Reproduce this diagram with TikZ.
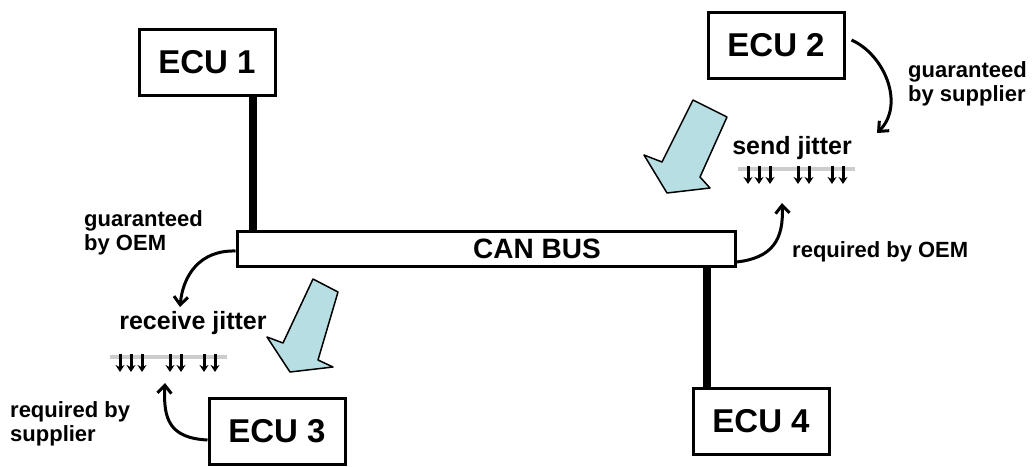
\documentclass[tikz,border=0pt]{standalone}
\usepackage{fontspec}
\setmainfont{Liberation Sans}
\usetikzlibrary{arrows.meta,positioning}
\definecolor{arrowblue}{RGB}{183,222,227}
\definecolor{jittergray}{RGB}{205,205,205}

\begin{document}
\begin{tikzpicture}[x=1pt,y=-1pt,
    ecu/.style={draw,line width=3pt,minimum width=136pt,minimum height=66pt,
      inner sep=0pt,font=\bfseries\fontsize{33}{40}\selectfont},
    bus/.style={draw,line width=3pt,minimum width=498pt,minimum height=35pt,inner sep=0pt},
    stub/.style={line width=8pt},
    note/.style={font=\bfseries\fontsize{22}{24}\selectfont,align=left,anchor=west,inner sep=0pt},
    jit/.style={font=\bfseries\fontsize{25}{30}\selectfont,inner sep=0pt},
    curvy/.style={line width=3pt,-{Straight Barb[length=8pt,width=14pt]}},
    bigarrow/.style={draw,fill=arrowblue,line width=1.5pt,line join=round},
    tick/.style={line width=3pt,-{Stealth[length=7pt,width=9pt]}}]
    \useasboundingbox (0,0) rectangle (1032,466);

    % ECUs and bus
    \node[ecu] (ecu1) at (207,62) {ECU 1};
    \node[ecu] (ecu2) at (776,45) {ECU 2};
    \node[ecu] (ecu3) at (277,431) {ECU 3};
    \node[ecu] (ecu4) at (761,421) {ECU 4};
    \node[bus] (bus) at (486,249) {};
    \node[font=\bfseries\fontsize{28}{34}\selectfont] (buslabel) at (537,249) {CAN BUS};

    \coordinate (tap1) at (253,249);
    \coordinate (tap4) at (707,249);
    \draw[stub] (ecu1.south -| tap1) -- (bus.north -| tap1);
    \draw[stub] (bus.south -| tap4) -- (ecu4.north -| tap4);

    % jitter
    \node[jit] (send) at (792,148) {send jitter};
    \node[jit] (recv) at (193,323) {receive jitter};
    \coordinate (sendbar) at (738,169);
    \coordinate (recvbar) at (110,357);
    \draw[line width=4pt,jittergray] (sendbar) -- ++(117,0);
    \draw[line width=4pt,jittergray] (recvbar) -- ++(117,0);
    \foreach \dx in {10,21,32,60,71,94,105} {
      \draw[tick] ([xshift=\dx pt,yshift=3pt]sendbar) -- ++(0,18);
      \draw[tick] ([xshift=\dx pt,yshift=3pt]recvbar) -- ++(0,18);
    }

    % big arrows
    \draw[bigarrow] (693,100) -- (727,117) -- (700,177) -- (710,188) -- (667,193)
      -- (644,155) -- (662,162) -- cycle;
    \draw[bigarrow] (313,279) -- (338,292) -- (318,360) -- (333,367) -- (290,372)
      -- (267,337) -- (283,343) -- cycle;

    % annotations
    \coordinate (sendin) at (877,133);
    \coordinate (sendout) at (782,203);
    \coordinate (recvin) at (180,307);
    \coordinate (recvout) at (165,383);
    \draw[curvy] ([xshift=6pt,yshift=5pt]ecu2.east) .. controls (885,55) and (905,105) .. (sendin);
    \draw[curvy] ([yshift=-13pt]bus.east) .. controls (772,258) and (784,240) .. (sendout);
    \draw[curvy] ([yshift=-2pt]bus.west) .. controls (200,250) and (183,275) .. (recvin);
    \draw[curvy] ([yshift=-9pt]ecu3.west) .. controls (170,438) and (163,420) .. (recvout);

    \node[note] (gsup) at (908,84) {guaranteed\\by supplier};
    \node[note] (roem) at (792,252) {required by OEM};
    \node[note] (goem) at (84,233) {guaranteed\\by OEM};
    \node[note] (rsup) at (10,424) {required by\\supplier};
\end{tikzpicture}
\end{document}
